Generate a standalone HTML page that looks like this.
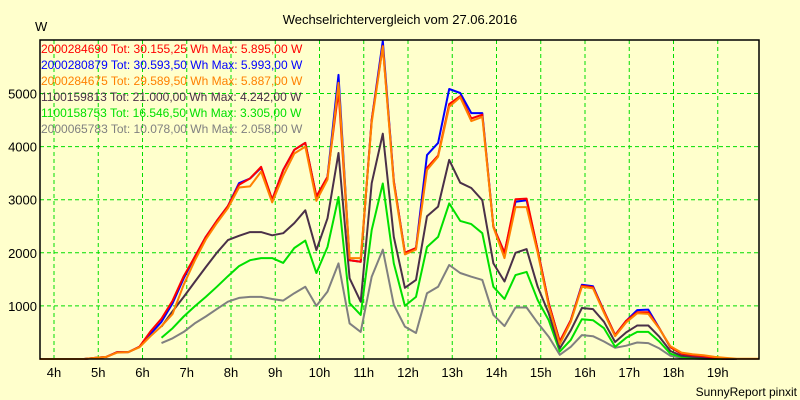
<!DOCTYPE html>
<html><head><meta charset="utf-8"><style>
html,body{margin:0;padding:0;background:#ffffcc;}
svg{display:block;font-family:"Liberation Sans",Arial,sans-serif;}
</style></head><body>
<svg id="chart" width="800" height="400" viewBox="0 0 800 400">
<rect x="0" y="0" width="800" height="400" fill="#ffffcc"/>
<text x="400" y="24" text-anchor="middle" font-size="13" fill="#000">Wechselrichtervergleich vom 27.06.2016</text>
<text x="35" y="31" font-size="13" fill="#000">W</text>
<g id="grid"></g>
<g id="yticks"></g>
<g id="xticks"></g>
<g id="series"></g>
<rect x="40" y="40" width="719" height="319" fill="none" stroke="#000" stroke-width="1.5"/>
<g id="legend"></g>
<text x="797" y="396" text-anchor="end" font-size="12" fill="#000">SunnyReport pinxit</text>
</svg>
<script>
const yTicks = [1000, 2000, 3000, 4000, 5000];
const xTickHours = [4,5,6,7,8,9,10,11,12,13,14,15,16,17,18,19];
const startHour = 3.68;
const stepHour = 0.25;
const legendLabels = [
 "2000284690 Tot: 30.155,25 Wh Max: 5.895,00 W",
 "2000280879 Tot: 30.593,50 Wh Max: 5.993,00 W",
 "2000284675 Tot: 29.589,50 Wh Max: 5.887,00 W",
 "1100159813 Tot: 21.000,00 Wh Max: 4.242,00 W",
 "1100158753 Tot: 16.546,50 Wh Max: 3.305,00 W",
 "2000065783 Tot: 10.078,00 Wh Max: 2.058,00 W"
];
const N = null;
const red = [0,0,0,0,0,20,40,130,130,230,520,760,1100,1560,1920,2300,2600,2880,3280,3400,3620,3000,3560,3940,4070,3060,3430,5050,1860,1830,4500,5895,3350,2000,2090,3600,3830,4800,4950,4530,4600,2490,2000,3010,3020,2050,1050,330,730,1380,1350,900,450,720,880,880,580,220,100,70,50,20,0];
const blue = [0,0,0,0,0,20,40,130,130,230,470,700,1050,1520,1920,2300,2600,2880,3310,3400,3600,3000,3560,3940,4070,3060,3430,5350,1860,1830,4500,5990,3350,2000,2090,3840,4070,5085,5010,4630,4630,2490,2000,2960,2990,2050,1050,330,730,1400,1370,900,450,720,920,930,580,220,100,70,50,20,0];
const orange = [0,0,0,0,0,20,40,120,130,220,430,620,850,1400,1850,2250,2560,2840,3230,3250,3530,2950,3450,3870,4000,2980,3380,5200,1900,1900,4450,5887,3300,1970,2060,3560,3810,4750,4930,4480,4560,2480,1900,2860,2860,2000,1000,280,700,1360,1330,870,430,690,860,850,570,240,120,90,70,40,20,5,5,5];
const dark = [N,N,N,N,N,N,N,N,N,N,N,610,900,1170,1450,1730,2000,2240,2320,2390,2390,2330,2370,2560,2800,2050,2650,3880,1520,1080,3310,4242,2300,1340,1490,2690,2870,3750,3320,3220,2990,1800,1460,2000,2070,1360,860,200,540,960,940,700,320,500,630,630,420,150,60,40,30,20,0,0];
const green = [N,N,N,N,N,N,N,N,N,N,N,400,580,800,990,1170,1360,1560,1750,1860,1900,1900,1810,2090,2230,1620,2110,3050,1050,830,2430,3305,1800,1000,1170,2110,2300,2930,2600,2540,2370,1360,1130,1580,1640,1110,730,140,360,750,730,580,230,400,510,510,330,100,40,20,10,0,0,0];
const gray = [N,N,N,N,N,N,N,N,N,N,N,300,390,510,670,800,940,1080,1150,1170,1170,1130,1100,1240,1360,1000,1270,1800,670,510,1550,2058,1020,610,490,1240,1360,1770,1620,1550,1490,830,620,970,970,680,420,80,230,450,430,330,210,250,310,300,200,60,20,10,0,0,0,0];

const NS = "http://www.w3.org/2000/svg";
function xOf(h){ return 54 + (h-4)*44.25; }
function yOf(v){ return 359 - v*0.0531; }
function mk(tag, attrs, parent){ const e=document.createElementNS(NS,tag); for(const k in attrs) e.setAttribute(k,attrs[k]); parent.appendChild(e); return e; }

const grid=document.getElementById('grid');
const yt=document.getElementById('yticks');
const xt=document.getElementById('xticks');
yTicks.forEach(v=>{
  const l=mk('line',{x1:40,x2:759,y1:yOf(v),y2:yOf(v),stroke:'#00dd00','stroke-dasharray':'4,3'},grid);
  
  
  const t=mk('text',{x:37,y:yOf(v)+5,'text-anchor':'end','font-size':'13',fill:'#000'},yt);
  t.textContent=String(v);
  
  
});
xTickHours.forEach(h=>{
  const l=mk('line',{x1:xOf(h),x2:xOf(h),y1:40,y2:359,stroke:'#00dd00','stroke-dasharray':'4,3'},grid);
  
  
  const t=mk('text',{x:xOf(h),y:377,'text-anchor':'middle','font-size':'13',fill:'#000'},xt);
  t.textContent=h+'h';
  
  
});

const ser=document.getElementById('series');
const seriesList=[
  {d:gray,c:'#808080',n:'series-2000065783'},
  {d:green,c:'#00e000',n:'series-1100158753'},
  {d:dark,c:'#4a3048',n:'series-1100159813'},
  {d:blue,c:'#0000ff',n:'series-2000280879'},
  {d:red,c:'#ff0000',n:'series-2000284690'},
  {d:orange,c:'#ff8000',n:'series-2000284675'}
];
seriesList.forEach(s=>{
  let p='';let pen=false;
  s.d.forEach((v,i)=>{
    if(v===null){pen=false;return;}
    const x=xOf(startHour+i*stepHour).toFixed(1), y=yOf(v).toFixed(1);
    p+=(pen?'L':'M')+x+' '+y+' ';pen=true;
  });
  const path=mk('path',{d:p,fill:'none',stroke:s.c,'stroke-width':'2','stroke-linejoin':'round'},ser);
  
  
});

const lg=document.getElementById('legend');
const legendColors=['#ff0000','#0000ff','#ff8000','#4a3048','#00e000','#808080'];
legendLabels.forEach((txt,i)=>{
  const t=mk('text',{x:41,y:53+i*16,'font-size':'12',fill:legendColors[i]},lg);
  t.textContent=txt;
  
  
});
</script>
</body></html>
